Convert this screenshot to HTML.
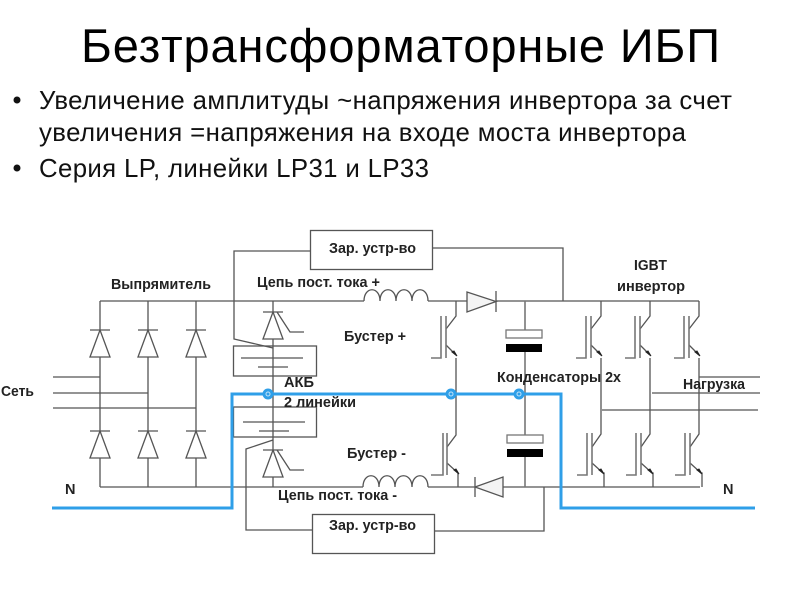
<!DOCTYPE html>
<html><head><meta charset="utf-8"><style>
html,body{margin:0;padding:0;background:#fff;width:800px;height:600px;overflow:hidden}
svg{display:block;filter:blur(0.35px)}
text{font-family:"Liberation Sans",sans-serif;fill:#000}
.l{font-size:14.5px;font-weight:bold;fill:#222}
.b{font-size:25.8px;fill:#111}
.w{fill:none;stroke:#555;stroke-width:1.3}
.g{fill:none;stroke:#777;stroke-width:1.6}
.f{fill:#fff;stroke:#555;stroke-width:1.3}
.t{fill:#fff;stroke:#555;stroke-width:1.3}
</style></head><body>
<svg width="800" height="600" viewBox="0 0 800 600" xmlns="http://www.w3.org/2000/svg">
<defs>
<g id="dd"><path class="t" d="M0 0L-10 27H10Z"/><path class="w" d="M-10 0H10"/></g>
<g id="th"><path class="t" d="M0 0L-10 27H10Z"/><path class="w" d="M-10 0H10M4 0L17 20H31"/></g>
<g id="ig"><path class="w" d="M10 0V15L0 28M0 44L10 54" /><path d="M6 51L11 55L8 50Z" fill="#222" stroke="#222"/><path class="g" d="M0 15V57M-5 15V57H-15"/></g>
</defs>
<text x="81" y="62" font-size="47" textLength="639" lengthAdjust="spacing">Безтрансформаторные ИБП</text>
<circle cx="17" cy="100" r="3.500" fill="#111"/>
<circle cx="17" cy="168" r="3.500" fill="#111"/>
<text class="b" x="39" y="109" textLength="693" lengthAdjust="spacing">Увеличение амплитуды ~напряжения инвертора за счет</text>
<text class="b" x="39" y="141" textLength="647" lengthAdjust="spacing">увеличения =напряжения на входе моста инвертора</text>
<text class="b" x="39" y="177" textLength="390" lengthAdjust="spacing">Серия LP, линейки LP31 и LP33</text>

<!-- rectifier -->
<path class="w" d="M100 301H364M100 301V487M148 301V487M196 301V487M53 377H100M53 393H148M53 408H196M100 487H246"/>
<use href="#dd" x="100" y="330"/><use href="#dd" x="148" y="330"/><use href="#dd" x="196" y="330"/>
<use href="#dd" x="100" y="431"/><use href="#dd" x="148" y="431"/><use href="#dd" x="196" y="431"/>

<!-- charger wires -->
<path class="w" d="M310 251H234V339L273 348M432 248H563V301M273 440L246 449V530H312M435 531H544V487"/>
<rect class="f" x="310.500" y="230.500" width="122" height="39"/>
<rect class="f" x="312.500" y="514.500" width="122" height="39"/>

<!-- batteries -->
<path class="w" d="M273 301V487"/>
<rect x="233.500" y="346" width="83" height="30" fill="none" stroke="#555" stroke-width="1.3"/>
<rect x="233.500" y="407" width="83" height="30" fill="none" stroke="#555" stroke-width="1.3"/>
<path class="w" d="M241 358H303M258 367H288M243 422H305M259 431H289"/>
<use href="#th" x="273" y="312"/>
<use href="#th" x="273" y="450"/>

<!-- DC bus and inductors -->
<path class="w" d="M246 487H363M428 487H475M428 301H467M496 301H699M503 487H700"/>
<path class="w" stroke-width="1.5" d="M364 301C364 286 380 286 380 301C380 286 396 286 396 301C396 286 412 286 412 301C412 286 428 286 428 301"/>
<path class="w" stroke-width="1.5" d="M363 487C363 472 379 472 379 487C379 472 395 472 395 487C395 472 412 472 412 487C412 472 428 472 428 487"/>
<path d="M467 292V312L496 301.500Z" fill="#f4f4f4" stroke="#555" stroke-width="1.3"/>
<path class="w" d="M496 291V312"/>
<path d="M503 477V497L475 487Z" fill="#f4f4f4" stroke="#555" stroke-width="1.3"/>
<path class="w" d="M475 477V497"/>

<!-- Booster IGBTs -->
<use href="#ig" x="446" y="301"/>
<path class="w" d="M456 358V435L447 447M447 463L458 473V487"/>
<path d="M454 470L459 474L456 469Z" fill="#222" stroke="#222"/>
<path class="g" d="M447 433V475M443 433V475H431"/>

<!-- capacitors -->
<path class="g" d="M525 301V330M525 351V435M525 457V487"/>
<rect x="506" y="330" width="36" height="8" fill="#fff" stroke="#777" stroke-width="1.300"/>
<rect x="506" y="344" width="36" height="8" fill="#000"/>
<rect x="507" y="435" width="36" height="8" fill="#fff" stroke="#777" stroke-width="1.300"/>
<rect x="507" y="449" width="36" height="8" fill="#000"/>

<!-- Inverter -->
<g id="a">
<use href="#ig" x="591" y="301"/>
<path class="w" d="M601 358V434L592 447M592 463L603 473H604V487"/>
<path d="M599 470L604 474L601 469Z" fill="#222" stroke="#222"/>
<path class="g" d="M592 433V475M587 433V475H577"/>
</g>
<use href="#a" x="49"/>
<use href="#a" x="98"/>
<path class="w" d="M699 377H760M652 393H760M602 410H758"/>

<!-- Blue N -->
<path d="M52 508H232V394H561V508H755" fill="none" stroke="#2f9fe8" stroke-width="3"/>
<g fill="#2f9fe8"><circle cx="268" cy="394" r="5.500"/><circle cx="451" cy="394" r="5.500"/><circle cx="519" cy="394" r="5.500"/></g>
<g fill="none" stroke="#bfe2f8" stroke-width="1"><circle cx="268" cy="394" r="2"/><circle cx="451" cy="394" r="2"/><circle cx="519" cy="394" r="2"/></g>

<!-- labels -->
<text class="l" x="111" y="289" textLength="100" lengthAdjust="spacingAndGlyphs">Выпрямитель</text>
<text class="l" x="1" y="396" textLength="33" lengthAdjust="spacingAndGlyphs">Сеть</text>
<text class="l" x="329" y="253" textLength="87" lengthAdjust="spacingAndGlyphs">Зар. устр-во</text>
<text class="l" x="257" y="287" textLength="123" lengthAdjust="spacingAndGlyphs">Цепь пост. тока +</text>
<text class="l" x="344" y="341" textLength="62" lengthAdjust="spacingAndGlyphs">Бустер +</text>
<text class="l" x="284" y="387" textLength="30" lengthAdjust="spacingAndGlyphs">АКБ</text>
<text class="l" x="284" y="407" textLength="72" lengthAdjust="spacingAndGlyphs">2 линейки</text>
<text class="l" x="347" y="458" textLength="59" lengthAdjust="spacingAndGlyphs">Бустер -</text>
<text class="l" x="278" y="500" textLength="119" lengthAdjust="spacingAndGlyphs">Цепь пост. тока -</text>
<text class="l" x="329" y="530" textLength="87" lengthAdjust="spacingAndGlyphs">Зар. устр-во</text>
<text class="l" x="634" y="270" textLength="33" lengthAdjust="spacingAndGlyphs">IGBT</text>
<text class="l" x="617" y="291" textLength="68" lengthAdjust="spacingAndGlyphs">инвертор</text>
<text class="l" x="497" y="382" textLength="124" lengthAdjust="spacingAndGlyphs">Конденсаторы 2х</text>
<text class="l" x="683" y="389" textLength="62" lengthAdjust="spacingAndGlyphs">Нагрузка</text>
<text class="l" x="65" y="494">N</text>
<text class="l" x="723" y="494">N</text>
</svg>
</body></html>
